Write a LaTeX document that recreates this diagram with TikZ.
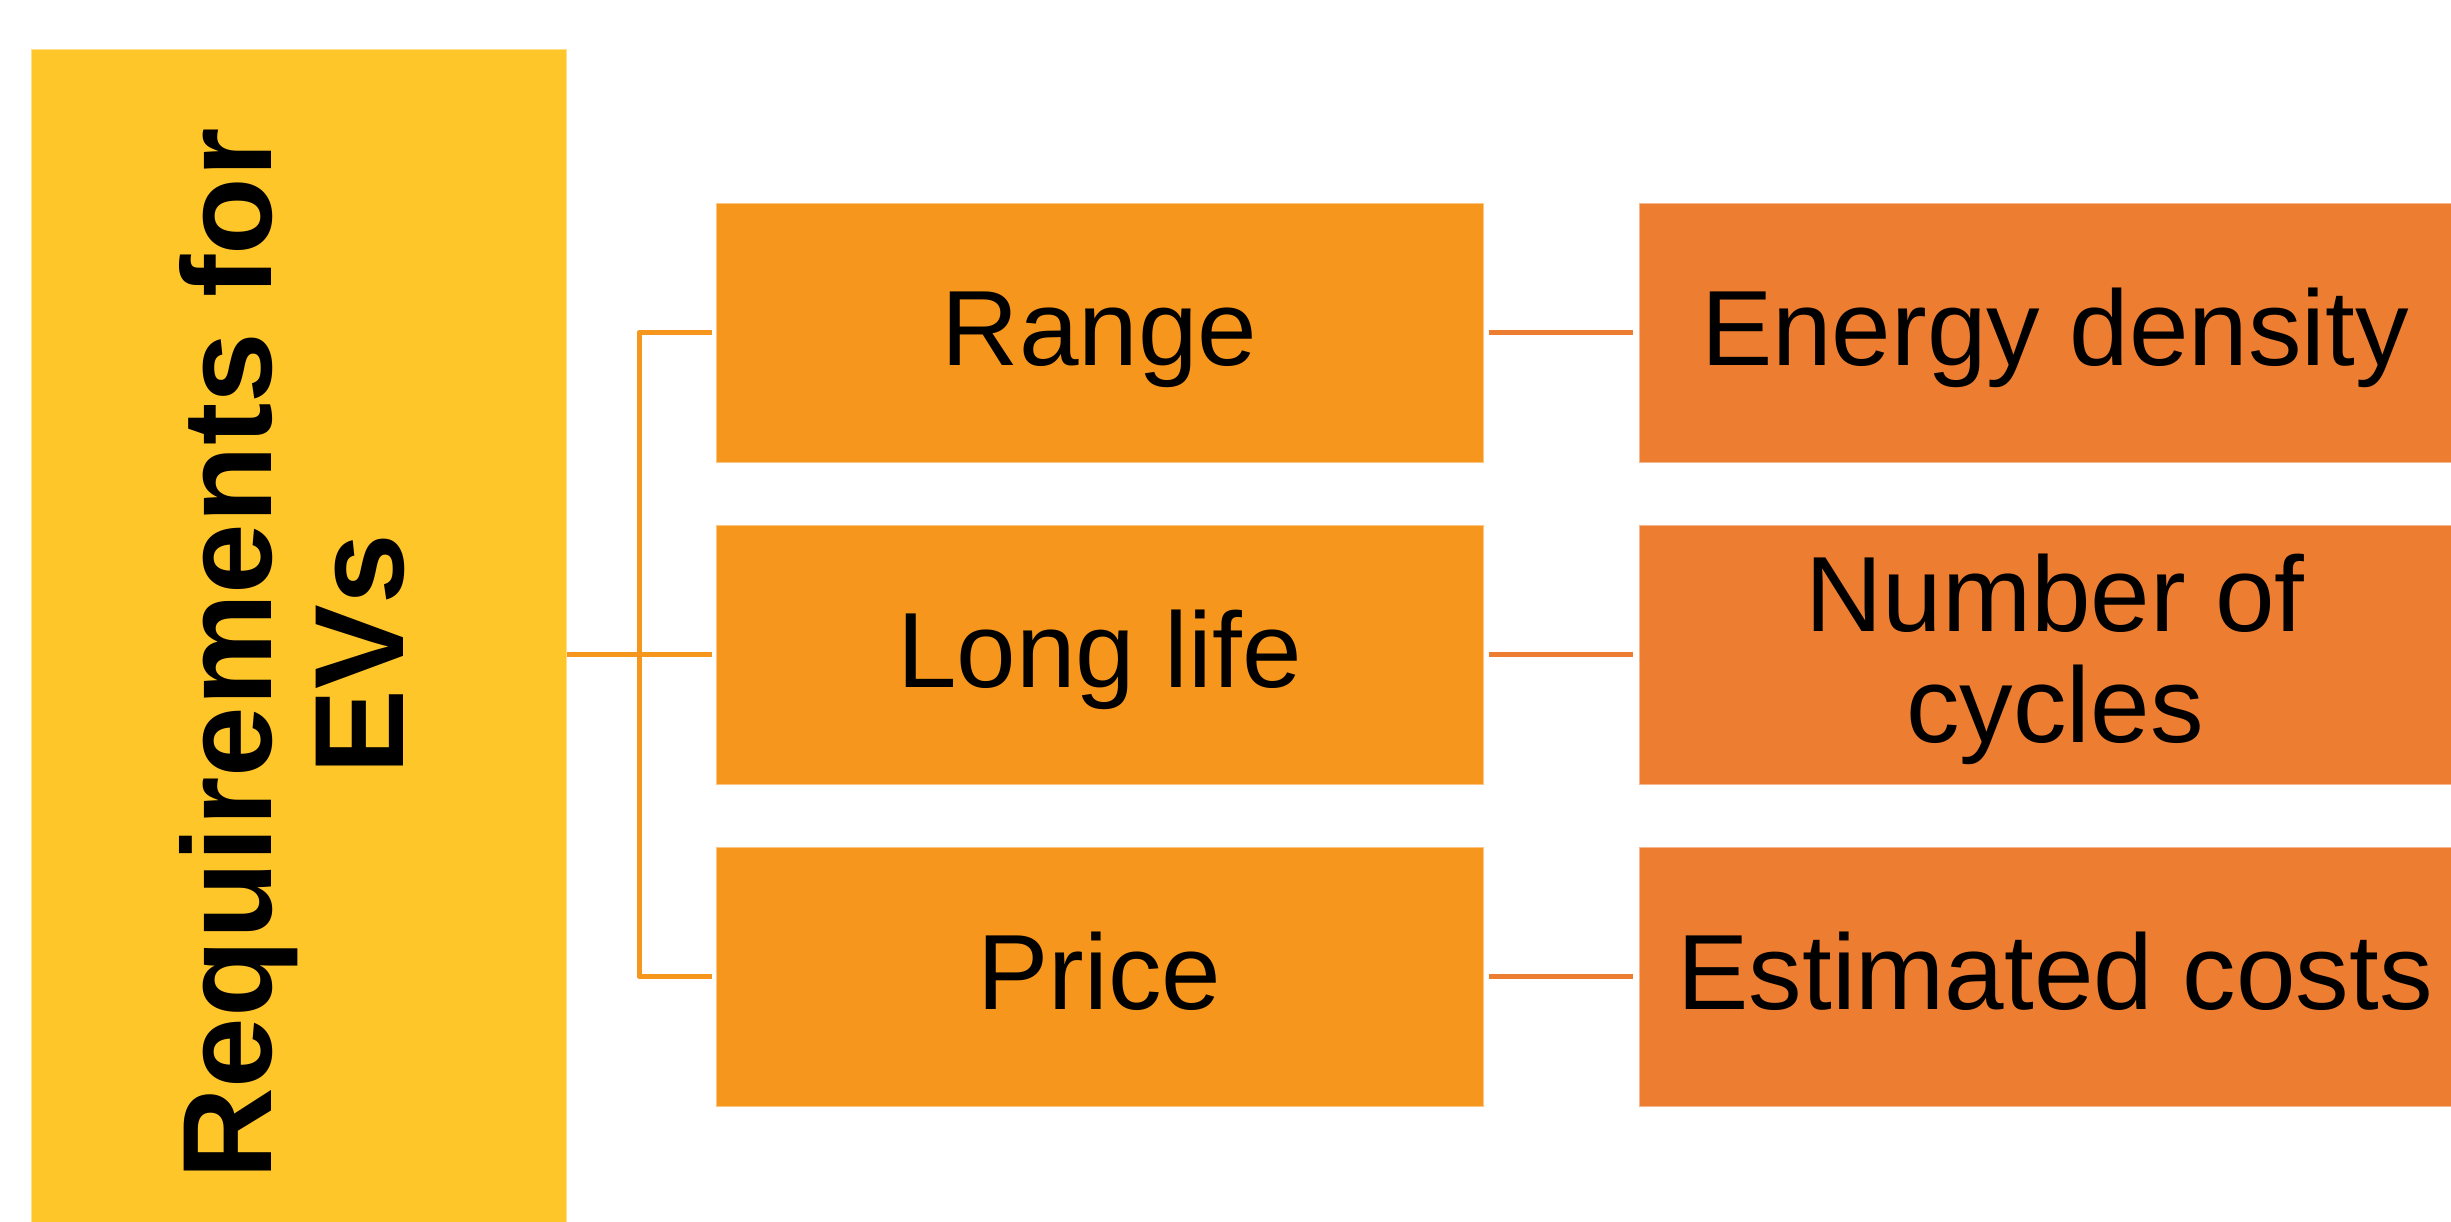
\documentclass[tikz,border=0pt]{standalone}
\usepackage{fontspec}
\setmainfont{Liberation Sans}
\definecolor{reqyellow}{HTML}{FFC629}
\definecolor{aspectorange}{HTML}{F7961C}
\definecolor{metricorange}{HTML}{ED7D31}

\begin{document}
\begin{tikzpicture}[x=0.5pt, y=-0.5pt,
  box/.style={rectangle, inner sep=0pt, line width=0.5pt, align=center,
    font=\fontsize{53.5}{55.5}\selectfont},
  aspect/.style={box, fill=aspectorange, draw=aspectorange!55!white,
    minimum width=383.5pt, minimum height=129.5pt},
  metric/.style={box, fill=metricorange, draw=metricorange!55!white,
    minimum width=416pt, minimum height=129.5pt},
  oneline/.style={text height=40pt, text depth=7.5pt},
  twolines/.style={text depth=6pt},
  treeline/.style={draw=aspectorange, line width=2.5pt, line join=round},
  linkline/.style={draw=metricorange, line width=2.5pt}
]
\useasboundingbox (0,0) rectangle (2451,1221);
\fill[white] (0,0) rectangle (2451,1221);
\clip (0,0) rectangle (2451,1221);

% Main requirement block, text running bottom to top
\node[rectangle, rotate=90, inner sep=0pt, fill=reqyellow, draw=reqyellow!55!white,
  line width=0.5pt, minimum width=605pt, minimum height=267.5pt, align=center,
  font=\bfseries\fontsize{63.5}{66}\selectfont, text depth=7pt]
  (req) at (298.5,654) {Requirements for\\EVs};

% Requirement aspects
\node[aspect, oneline] (a1) at (1099.5,332.5) {Range};
\node[aspect, oneline] (a2) at (1099.5,654.5) {Long life};
\node[aspect, oneline] (a3) at (1099.5,976.5) {Price};

% Measurable quantities
\node[metric, oneline] (m1) at (2055,332.5) {Energy density};
\node[metric, twolines] (m2) at (2055,654.5) {Number of\\cycles};
\node[metric, oneline] (m3) at (2055,976.5) {Estimated costs};

% Bracket joining the block to the aspects
\coordinate (bus) at (639,654);
\draw[treeline, shorten <=2pt, shorten >=2pt] (a1.west) -| (bus) |- (a3.west);
\draw[treeline, shorten >=2pt] (req.south) -- (req.south -| a2.west);

% Aspect to quantity links
\draw[linkline, shorten <=2.5pt, shorten >=3pt] (a1.east) -- (m1.west);
\draw[linkline, shorten <=2.5pt, shorten >=3pt] (a2.east) -- (m2.west);
\draw[linkline, shorten <=2.5pt, shorten >=3pt] (a3.east) -- (m3.west);
\end{tikzpicture}
\end{document}
